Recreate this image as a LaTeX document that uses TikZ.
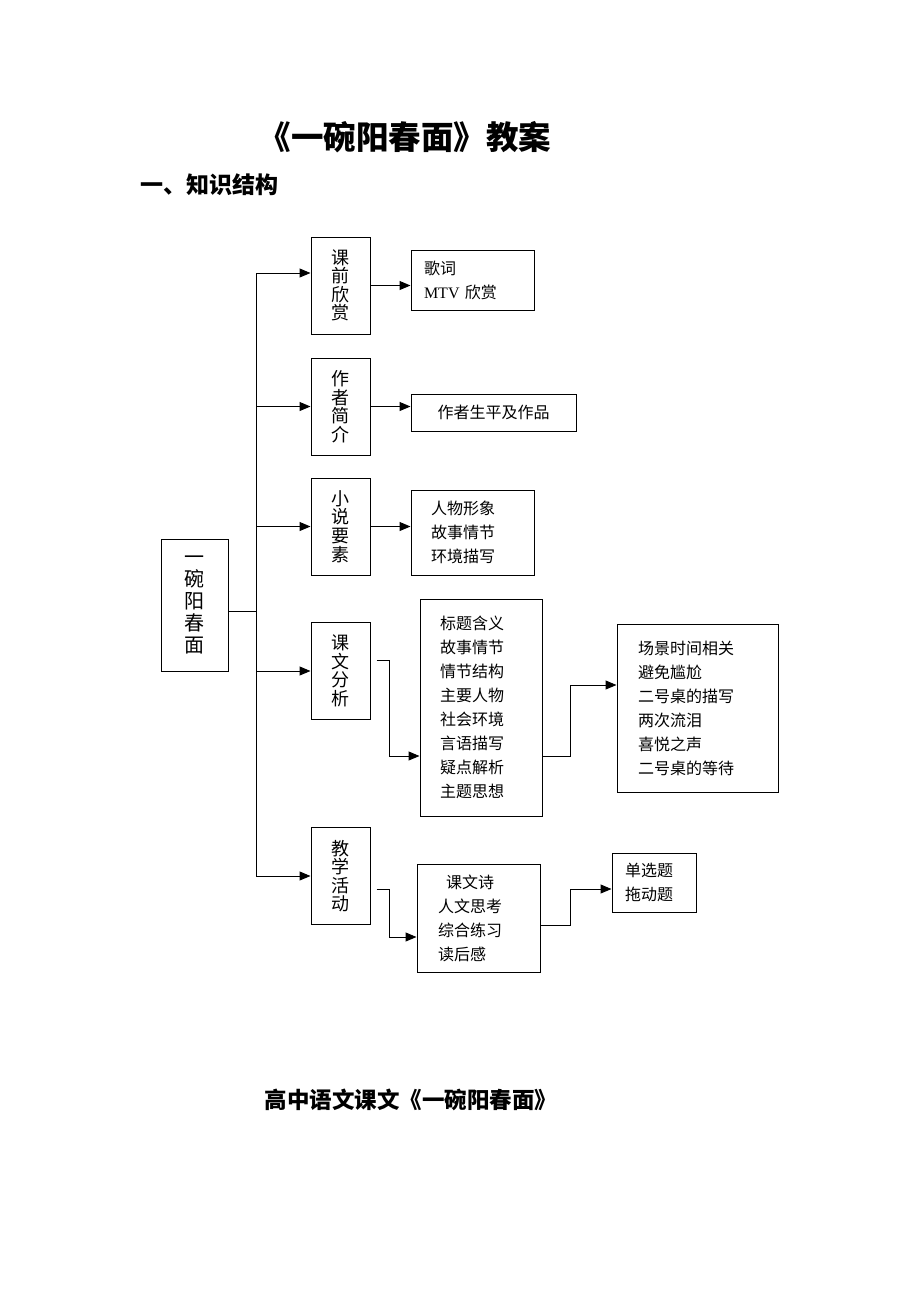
\documentclass[tikz,border=0pt]{standalone}
\usepackage{fontspec}
\setmainfont{Liberation Serif}
\newfontfamily\cjk{Noto Sans CJK SC}
\usetikzlibrary{arrows.meta}
\tikzset{% 
    bx/.style={draw,line width=1pt,inner sep=0pt,align=left,font=\cjk\fontsize{16}{24}\selectfont},
    vbx/.style={draw,line width=1pt,inner sep=0pt,align=center,minimum width=59pt,minimum height=97pt,font=\cjk\fontsize{18}{18.5}\selectfont}
}

\begin{document}
\begin{tikzpicture}[
                x=1pt,y=-1pt,
                ln/.style={line width=1pt},
                arr/.style={line width=1pt,-{Triangle[length=11pt,width=9pt]}}
            ]
            \useasboundingbox (0,0) rectangle (920,1302);
            \node[font=\cjk\bfseries\fontsize{32.5}{32.5}\selectfont] (ttl) at (405,137) {《一碗阳春面》教案};
            \node[anchor=west,font=\cjk\bfseries\fontsize{23}{23}\selectfont] (sec) at (137,185) {一、知识结构};
            \node[font=\cjk\bfseries\fontsize{22.5}{22.5}\selectfont] (foot) at (411,1100) {高中语文课文《一碗阳春面》};

            \node[vbx,minimum width=67pt,minimum height=132pt,font=\cjk\fontsize{20}{22}\selectfont] (root) at (194.5,605) {一\\碗\\阳\\春\\面};

            \node[vbx] (kqxs) at (340.5,285.5) {课\\前\\欣\\赏};
            \node[vbx] (zzjj) at (340.5,406.5) {作\\者\\简\\介};
            \node[vbx] (xsys) at (340.5,526.5) {小\\说\\要\\素};
            \node[vbx] (kwfx) at (340.5,671) {课\\文\\分\\析};
            \node[vbx] (jxhd) at (340.5,876) {教\\学\\活\\动};

            \node[bx,minimum height=60pt,text width=97pt,inner xsep=13pt] (gc) at (472.5,280) {歌词\\{\rmfamily MTV} 欣赏};
            \node[bx,minimum width=165pt,minimum height=37pt,align=center] (sp) at (493.5,412.5) {作者生平及作品};
            \node[bx,minimum height=85pt,text width=83pt,inner xsep=20pt] (ys) at (472.5,532.5) {人物形象\\故事情节\\环境描写};
            \node[bx,minimum height=217pt,text width=82pt,inner xsep=20pt] (nr) at (481,707.5) {标题含义\\故事情节\\情节结构\\主要人物\\社会环境\\言语描写\\疑点解析\\主题思想};
            \node[bx,minimum height=168pt,text width=119pt,inner xsep=21pt] (jx) at (697.5,708) {场景时间相关\\避免尴尬\\二号桌的描写\\两次流泪\\喜悦之声\\二号桌的等待};
            \node[bx,minimum height=108pt,text width=81pt,inner xsep=21pt] (hd) at (478.5,918) {\hspace*{8pt}课文诗\\人文思考\\综合练习\\读后感};
            \node[bx,minimum height=59pt,text width=58pt,inner xsep=13pt] (tx) at (654,882.5) {单选题\\拖动题};

            \coordinate (ttop) at (256,273);
            \coordinate (tbot) at (256,876);

            \draw[ln] ([yshift=-6pt]root.east) -- ([yshift=-6pt]root.east -| ttop);
            \draw[ln] (ttop) -- (tbot);
            \draw[arr] (ttop) -- (ttop -| kqxs.west);
            \draw[arr] (zzjj.west -| ttop) -- (zzjj.west);
            \draw[arr] (xsys.west -| ttop) -- (xsys.west);
            \draw[arr] (kwfx.west -| ttop) -- (kwfx.west);
            \draw[arr] (tbot) -- (jxhd.west);

            \draw[arr] (kqxs.east) -- (kqxs.east -| gc.west);
            \draw[arr] (zzjj.east) -- (zzjj.east -| sp.west);
            \draw[arr] (xsys.east) -- (xsys.east -| ys.west);
            \draw[arr] ([shift={(6pt,11pt)}]kwfx.east) -- ++(13,0) |- ([yshift=-48.5pt]nr.west);
            \draw[arr] ([yshift=-48.5pt]nr.east) -- ++(28,0) |- ([yshift=23pt]jx.west);
            \draw[arr] ([shift={(6pt,-13pt)}]jxhd.east) -- ++(13,0) |- ([yshift=-19pt]hd.west);
            \draw[arr] ([yshift=-7pt]hd.east) -- ++(30,0) |- ([yshift=-6.5pt]tx.west);
        \end{tikzpicture}
\end{document}
